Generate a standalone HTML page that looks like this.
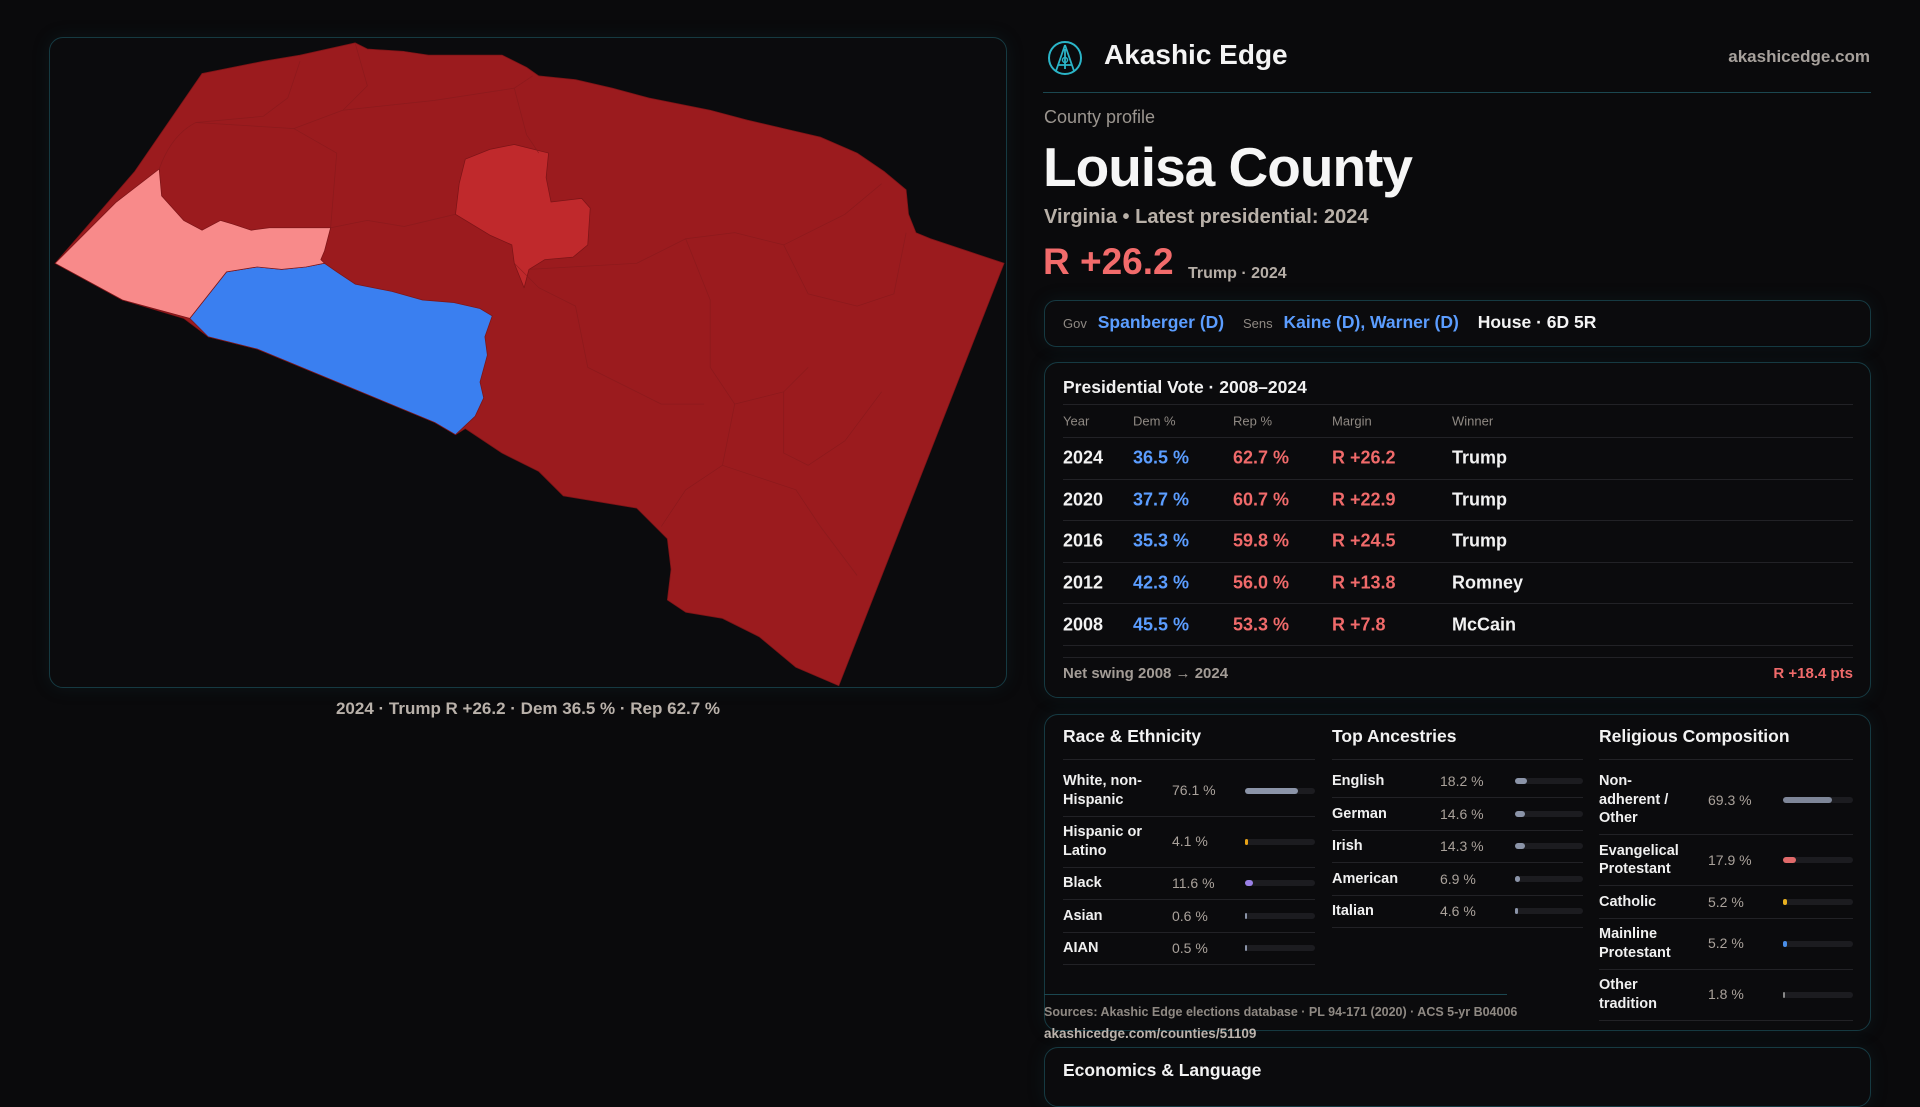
<!DOCTYPE html>
<html><head><meta charset="utf-8">
<style>
*{box-sizing:border-box;margin:0;padding:0}
body{width:1920px;height:1080px;background:#0a0a0c;font-family:"Liberation Sans",sans-serif;color:#f2f2f2;position:relative;overflow:hidden}
.abs{position:absolute}
.panel{position:absolute;background:#0b0b0d;border:1px solid #163a42;border-radius:14px;box-shadow:0 0 18px rgba(20,70,80,0.18)}
.grey{color:#a39c96}
.blue{color:#5b9dff}
.red{color:#f06a6a}
.vt{position:absolute;left:1063px;top:405px;width:790px}
.vt .hd{height:33px;border-bottom:1px solid #222226;font-size:13px;color:#8f8983;position:relative}
.vrow{height:41.6px;border-bottom:1px solid #222226;position:relative;font-size:18px;font-weight:bold}
.vrow span,.vt .hd span{position:absolute;top:50%;transform:translateY(-50%)}
.col h3{font-size:17.5px;font-weight:bold;height:39px;line-height:30px;border-bottom:1px solid #222226;color:#f2f2f2}
.drow{display:flex;align-items:center;border-bottom:1px solid #222226;font-size:14.5px;line-height:18.5px;padding:6.5px 0}
.drow .lb{font-weight:bold;color:#f0f0f0}
.drow .vl{position:absolute;color:#aaa29b;font-size:14px}
.trk{position:absolute;height:6px;background:#1c1c20;border-radius:3px}
.fill{height:6px;border-radius:3px}
</style></head>
<body>
<div class="panel" style="left:49px;top:37px;width:958px;height:651px"></div>
<svg class="abs" style="left:0;top:0" width="1920" height="1080" viewBox="0 0 1568 882">
  <g stroke="#7c1417" stroke-width="0.6" stroke-linejoin="round">
    <polygon fill="#9b1b1e" points="45,215 110,140 165,60 215,50 245,45 290,35 300,40 330,42 350,45 385,45 410,45 430,55 440,62 470,65 500,72 530,80 580,90 610,98 640,105 670,112 700,125 722,140 740,155 742,175 748,190 760,195 790,205 820,215 685,560 650,545 620,520 590,505 560,500 545,490 548,465 545,440 520,415 490,410 460,405 440,385 410,370 380,350 372,355 355,345 210,285 170,275 150,260 100,245"/>
    <polygon fill="#c0292c" points="380,130 400,122 420,118 448,125 446,145 450,165 475,162 482,170 480,200 468,210 445,212 432,220 428,235 420,215 418,200 400,192 372,175 375,150"/>
    <polygon fill="#3a7ff0" points="155,260 185,222 210,218 230,220 250,218 265,215 275,222 290,232 320,238 345,245 370,247 392,252 402,258 396,275 398,290 392,312 395,325 388,340 372,355 355,345 210,285 170,275"/>
    <polygon fill="#f88a8a" points="45,215 95,165 130,138 132,160 150,180 165,188 180,180 190,183 205,188 220,186 250,186 270,186 265,205 262,212 265,215 250,218 230,220 210,218 185,222 155,260 100,245"/>
  </g>
  <g fill="none" stroke="#86191c" stroke-width="0.6" opacity="0.7">
    <path d="M130,138 Q140,110 160,100 L215,95 L235,80 L245,50"/>
    <path d="M160,100 L240,105 L275,125 L270,186"/>
    <path d="M240,105 L280,90 L300,70 L290,35"/>
    <path d="M280,90 L355,82 L420,72 L435,62"/>
    <path d="M270,186 L300,180 L330,185 L372,175"/>
    <path d="M420,72 L430,110 L440,125"/>
    <path d="M420,215 L440,235 L470,250 L480,300 L520,320 L540,330 L575,330"/>
    <path d="M432,220 L520,215 L560,195 L600,190 L640,200 L690,175 L720,150"/>
    <path d="M560,195 L580,245 L580,300 L600,330 L640,320 L660,300"/>
    <path d="M640,200 L660,240 L700,250 L730,240 L740,190"/>
    <path d="M600,330 L590,380 L560,400 L540,430"/>
    <path d="M590,380 L620,390 L650,400 L670,430 L700,470"/>
    <path d="M640,320 L640,370 L660,380 L690,360 L720,320"/>
  </g>
</svg>
<div class="abs" style="left:49px;width:958px;top:699px;text-align:center;font-size:17px;font-weight:bold;color:#b9b1aa">2024 · Trump R +26.2 · Dem 36.5 % · Rep 62.7 %</div>

<svg class="abs" style="left:1046px;top:39px" width="38" height="38" viewBox="0 0 38 38">
  <circle cx="19" cy="19" r="16" fill="none" stroke="#2bb5c8" stroke-width="2"/>
  <path d="M19 6 L10 32 M19 6 L28 32 M12 26 L26 26 M19 10 L19 30" stroke="#2bb5c8" stroke-width="1.8" fill="none"/>
  <circle cx="19" cy="21" r="2.5" fill="none" stroke="#2bb5c8" stroke-width="1.5"/>
</svg>
<div class="abs" style="left:1104px;top:39px;font-size:28px;font-weight:bold;color:#f4f4f4">Akashic Edge</div>
<div class="abs" style="right:50px;top:47px;font-size:17px;font-weight:bold;color:#a7a19c">akashicedge.com</div>
<div class="abs" style="left:1043px;top:92px;width:828px;height:1px;background:#1b4750"></div>

<div class="abs" style="left:1044px;top:107px;font-size:18px;color:#9b958f">County profile</div>
<div class="abs" style="left:1043px;top:135px;font-size:55px;font-weight:bold;color:#f6f6f6;letter-spacing:-1px">Louisa County</div>
<div class="abs" style="left:1044px;top:206px;font-size:20px;font-weight:bold;color:#b8b0a8">Virginia • Latest presidential: 2024</div>
<div class="abs" style="left:1043px;top:241px;font-size:37px;font-weight:bold;color:#f26b6b">R +26.2</div>
<div class="abs" style="left:1188px;top:265px;font-size:16px;font-weight:bold;color:#b6aea7">Trump · 2024</div>

<div class="panel" style="left:1044px;top:300px;width:827px;height:47px;border-radius:12px"></div>
<div class="abs" style="left:1063px;top:312px;font-size:17.5px;font-weight:bold;white-space:nowrap">
  <span style="font-size:13px;color:#8f8983;font-weight:normal">Gov</span>
  <span class="blue" style="margin-left:6px">Spanberger (D)</span>
  <span style="font-size:13px;color:#8f8983;font-weight:normal;margin-left:14px">Sens</span>
  <span class="blue" style="margin-left:6px">Kaine (D), Warner (D)</span>
  <span style="margin-left:14px;color:#f4f4f4">House · 6D 5R</span>
</div>

<div class="panel" style="left:1044px;top:362px;width:827px;height:336px"></div>
<div class="abs" style="left:1063px;top:377px;font-size:17.5px;font-weight:bold">Presidential Vote · 2008–2024</div>
<div class="abs" style="left:1063px;top:404px;width:790px;height:1px;background:#222226"></div>
<div class="vt" id="vt">
  <div class="hd"><span style="left:0">Year</span><span style="left:70px">Dem %</span><span style="left:170px">Rep %</span><span style="left:269px">Margin</span><span style="left:389px">Winner</span></div>
</div>
<div class="abs" style="left:1063px;top:657px;width:790px;height:1px;background:#222226"></div>
<div class="abs" style="left:1063px;top:665px;font-size:15px;font-weight:bold;color:#a39c96">Net swing 2008 → 2024</div>
<div class="abs" style="right:67px;top:665px;font-size:15px;font-weight:bold;color:#f06a6a">R +18.4 pts</div>

<div class="panel" style="left:1044px;top:714px;width:827px;height:317px"></div>
<div class="abs col" id="c-race" style="left:1063px;top:721px;width:252px"><h3>Race &amp; Ethnicity</h3></div>
<div class="abs col" id="c-anc" style="left:1332px;top:721px;width:251px"><h3>Top Ancestries</h3></div>
<div class="abs col" id="c-rel" style="left:1599px;top:721px;width:254px"><h3>Religious Composition</h3></div>
<div class="abs" style="left:1044px;top:994px;width:463px;height:1px;background:#1b4750"></div>
<div class="abs" style="left:1044px;top:1005px;font-size:12.5px;font-weight:bold;color:#8f8983">Sources: Akashic Edge elections database · PL 94-171 (2020) · ACS 5-yr B04006</div>
<div class="abs" style="left:1044px;top:1026px;font-size:13.5px;font-weight:bold;color:#bdb5ae">akashicedge.com/counties/51109</div>

<div class="panel" style="left:1044px;top:1047px;width:827px;height:60px"></div>
<div class="abs" style="left:1063px;top:1060px;font-size:17.5px;font-weight:bold">Economics &amp; Language</div>

<script>
const years=[2024,2020,2016,2012,2008];
const demPct=[36.5,37.7,35.3,42.3,45.5];
const repPct=[62.7,60.7,59.8,56.0,53.3];
const margins=["R +26.2","R +22.9","R +24.5","R +13.8","R +7.8"];
const winners=["Trump","Trump","Trump","Romney","McCain"];

const raceLabels=["White, non-<br>Hispanic","Hispanic or<br>Latino","Black","Asian","AIAN"];
const raceValues=[76.1,4.1,11.6,0.6,0.5];
const raceColors=["#8b94a8","#e8a317","#9a80e6","#8b94a8","#8b94a8"];
const ancLabels=["English","German","Irish","American","Italian"];
const ancValues=[18.2,14.6,14.3,6.9,4.6];
const relLabels=["Non-<br>adherent /<br>Other","Evangelical<br>Protestant","Catholic","Mainline<br>Protestant","Other<br>tradition"];
const relValues=[69.3,17.9,5.2,5.2,1.8];
const relColors=["#7e8698","#e06a6a","#e8b020","#4a8ee8","#888888"];

const vt=document.getElementById('vt');
years.forEach((y,i)=>{
  const r=document.createElement('div');
  r.className='vrow';
  
  
  r.innerHTML='<span style="left:0">'+y+'</span><span class="blue" style="left:70px">'+demPct[i].toFixed(1)+' %</span><span class="red" style="left:170px">'+repPct[i].toFixed(1)+' %</span><span class="red" style="left:269px">'+margins[i]+'</span><span style="left:389px">'+winners[i]+'</span>';
  vt.appendChild(r);
});

function build(id,labels,values,colors,valX,barX,barW,pref){
  const c=document.getElementById(id);
  labels.forEach((l,i)=>{
    const d=document.createElement('div');
    d.className='drow';
    d.style.position='relative';
    if(i===0)d.style.paddingTop='12px';
    
    
    const w=Math.max(2,values[i]/100*barW);
    d.innerHTML='<div class="lb">'+l+'</div><div class="vl" style="left:'+valX+'px">'+values[i].toFixed(1)+' %</div><div class="trk" style="left:'+barX+'px;width:'+barW+'px"><div class="fill" style="width:'+w+'px;background:'+colors[i%colors.length]+'"></div></div>';
    c.appendChild(d);
  });
}
build('c-race',raceLabels,raceValues,raceColors,109,182,70,'race');
build('c-anc',ancLabels,ancValues,["#8b94a8"],108,183,68,'ancestry');
build('c-rel',relLabels,relValues,relColors,109,184,70,'religion');
</script>
</body></html>
